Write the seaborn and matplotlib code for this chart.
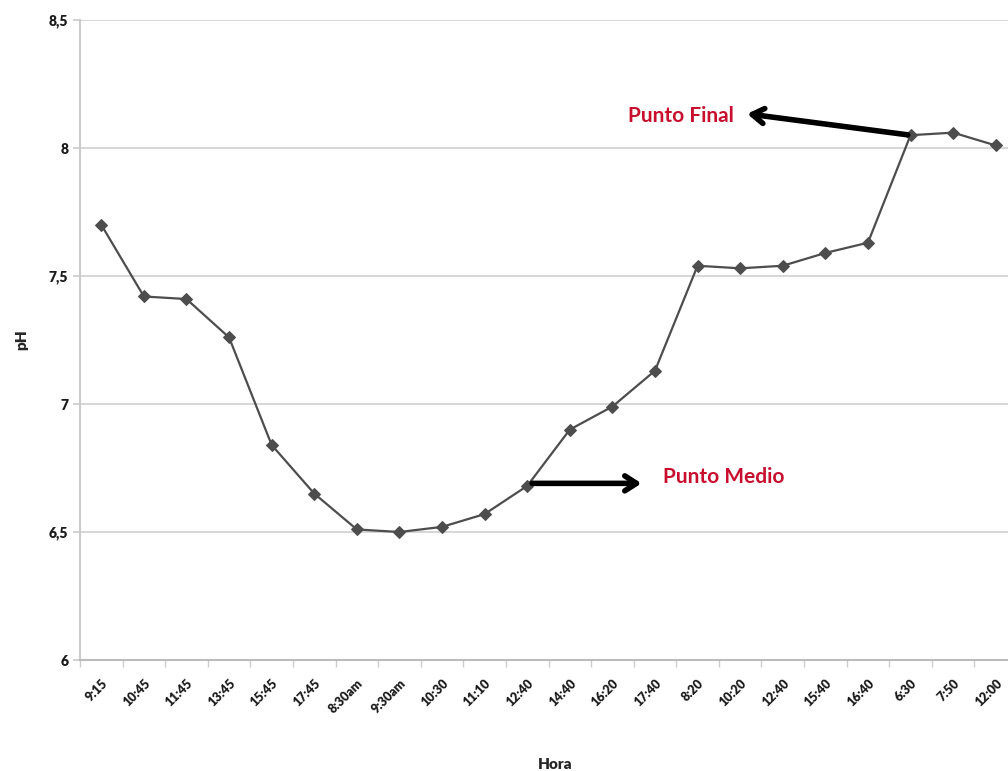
import matplotlib
matplotlib.use("Agg")
import matplotlib.pyplot as plt
import seaborn as sns
import numpy as np
from matplotlib.ticker import FuncFormatter, FixedLocator

horas = ["9:15", "10:45", "11:45", "13:45", "15:45", "17:45", "8:30am", "9:30am",
         "10:30", "11:10", "12:40", "14:40", "16:20", "17:40", "8:20", "10:20",
         "12:40", "15:40", "16:40", "6:30", "7:50", "12:00"]
ph = [7.70, 7.42, 7.41, 7.26, 6.84, 6.65, 6.51, 6.50, 6.52, 6.57, 6.68, 6.90,
      6.99, 7.13, 7.54, 7.53, 7.54, 7.59, 7.63, 8.05, 8.06, 8.01]

sns.set_theme(style="white")
plt.rcParams['font.family'] = ['Lato', 'DejaVu Sans']

fig = plt.figure(figsize=(10.08, 7.71), dpi=100)
ax = fig.add_axes([80 / 1008, 1 - 660 / 771, 937 / 1008, 640 / 771])

pos = np.arange(len(horas))
sns.lineplot(x=pos, y=ph, ax=ax, color="#4d4d4d", linewidth=1.6,
             marker="D", markersize=6, markeredgecolor="#4d4d4d")

ax.set_xlim(-0.5, len(horas) - 0.5)
ax.set_ylim(6, 8.5)
ax.set_yticks([6, 6.5, 7, 7.5, 8, 8.5])
ax.yaxis.set_major_formatter(FuncFormatter(lambda v, p: ("%g" % v).replace(".", ",")))
ax.yaxis.grid(True, color="#d0d0d0", linewidth=1.2)

ax.set_xticks(pos)
ax.set_xticklabels(horas, rotation=45, ha="right", rotation_mode="anchor",
                   fontsize=9, fontweight="heavy", color="#1a1a1a")
ax.xaxis.set_minor_locator(FixedLocator(np.arange(-0.5, len(horas), 1)))
ax.tick_params(axis="x", which="major", length=0, pad=12)
ax.tick_params(axis="x", which="minor", length=5, color="#cccccc", bottom=True)
ax.tick_params(axis="y", length=5, color="#cccccc", left=True, labelsize=10,
               labelcolor="#1a1a1a")
for t in ax.get_yticklabels():
    t.set_fontweight("heavy")

for s in ["top", "right"]:
    ax.spines[s].set_visible(False)
ax.spines["left"].set_color("#cccccc")
ax.spines["left"].set_linewidth(1.5)
ax.spines["bottom"].set_color("#bbbbbb")
ax.spines["bottom"].set_linewidth(1.5)

ax.set_ylabel("pH", fontsize=11, fontweight="heavy")
ax.yaxis.set_label_coords(-52 / 937, 0.5)
ax.set_xlabel("Hora", fontsize=11, fontweight="heavy")
ax.xaxis.set_label_coords(475 / 937, -98 / 640)

arrow = dict(arrowstyle="->,head_length=0.7,head_width=0.45",
             color="black", lw=4)
ax.annotate("", xy=(15.1, 8.135), xytext=(19.0, 8.05), arrowprops=arrow)
ax.text(14.85, 8.125, "Punto Final", color="#c8102e", fontsize=15,
        fontweight="bold", ha="right", va="center")

ax.annotate("", xy=(12.75, 6.69), xytext=(10.05, 6.69), arrowprops=arrow)
ax.text(13.2, 6.715, "Punto Medio", color="#c8102e", fontsize=15,
        fontweight="bold", ha="left", va="center")

fig.savefig("out.png", dpi=100)
